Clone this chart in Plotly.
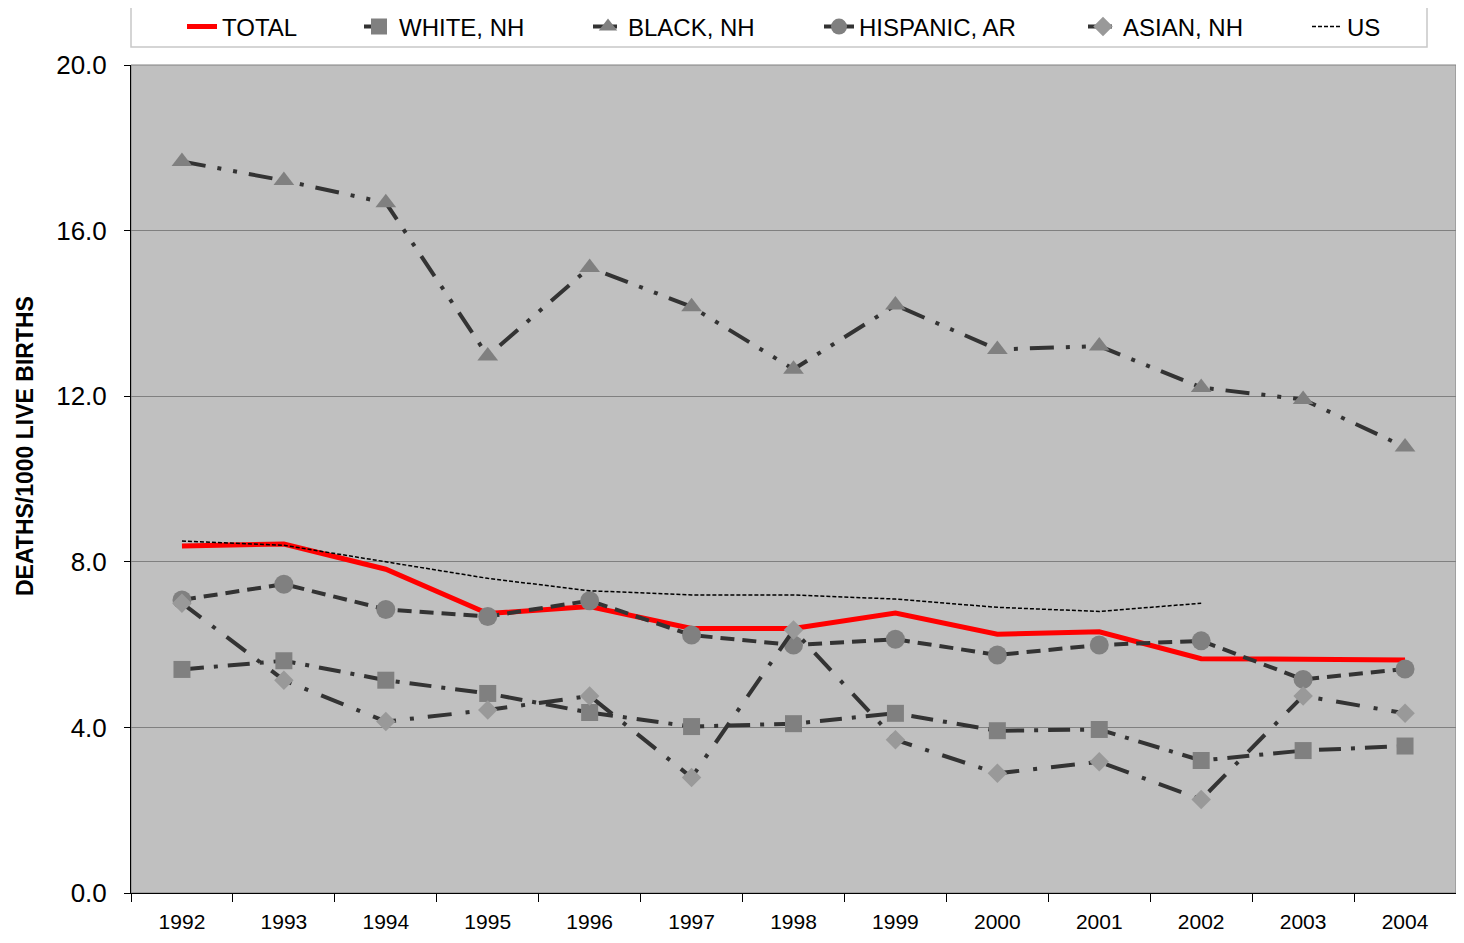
import plotly.graph_objects as go

years = ["1992", "1993", "1994", "1995", "1996", "1997", "1998",
         "1999", "2000", "2001", "2002", "2003", "2004"]
total = [8.38, 8.43, 7.82, 6.75, 6.92, 6.39, 6.39, 6.76, 6.25, 6.31, 5.66, 5.64, 5.63]
white_nh = [5.40, 5.61, 5.14, 4.82, 4.36, 4.02, 4.09, 4.34, 3.92, 3.95, 3.20, 3.44, 3.55]
black_nh = [17.67, 17.21, 16.67, 12.97, 15.11, 14.16, 12.65, 14.20, 13.13, 13.21, 12.21, 11.92, 10.77]
hispanic_ar = [7.08, 7.46, 6.85, 6.68, 7.06, 6.23, 5.99, 6.13, 5.75, 5.99, 6.09, 5.16, 5.41]
asian_nh = [7.00, 5.14, 4.14, 4.42, 4.76, 2.79, 6.35, 3.70, 2.89, 3.17, 2.26, 4.76, 4.34]
us_years = ["1992", "1993", "1994", "1995", "1996", "1997", "1998",
            "1999", "2000", "2001", "2002"]
us = [8.5, 8.4, 8.0, 7.6, 7.3, 7.2, 7.2, 7.1, 6.9, 6.8, 7.0]

y_ticks = [0, 4, 8, 12, 16, 20]

# page has an 8px body margin on every side; keep the figure inside the window
OFF = 8
W, H = 1464 - 2 * OFF, 943 - 2 * OFF
ML, MR, MT = 131 - OFF, 0, 65 - OFF
MB = H - (893 - OFF)
PW, PH = W - ML - MR, H - MT - MB

def px_x(p):
    return (p - OFF - ML) / PW

def px_y(p):
    return (H - MB - (p - OFF)) / PH

fig = go.Figure()
fig.add_trace(go.Scatter(x=years, y=total, name="TOTAL", mode="lines", legend="legend",
                         line=dict(color="#FF0000", width=5)))
fig.add_trace(go.Scatter(x=years, y=white_nh, name="WHITE, NH", mode="lines+markers", legend="legend2",
                         line=dict(color="#333333", width=4, dash="22px,10px,4px,10px"),
                         marker=dict(symbol="square", size=17, color="#808080")))
fig.add_trace(go.Scatter(x=years, y=black_nh, name="BLACK, NH", mode="lines+markers", legend="legend3",
                         line=dict(color="#333333", width=4, dash="24px,12px,4px,12px,4px,12px"),
                         marker=dict(symbol="triangle-up", size=18, color="#808080")))
fig.add_trace(go.Scatter(x=years, y=hispanic_ar, name="HISPANIC, AR", mode="lines+markers", legend="legend4",
                         line=dict(color="#333333", width=4, dash="14px,8px"),
                         marker=dict(symbol="circle", size=19, color="#808080")))
fig.add_trace(go.Scatter(x=years, y=asian_nh, name="ASIAN, NH", mode="lines+markers", legend="legend5",
                         line=dict(color="#333333", width=4, dash="24px,14px,4px,14px"),
                         marker=dict(symbol="diamond", size=15, color="#999999")))
fig.add_trace(go.Scatter(x=us_years, y=us, name="US", mode="lines", legend="legend6",
                         line=dict(color="#000000", width=1.5, dash="4px,2px")))

font_family = "Liberation Sans, Arial, sans-serif"
text_starts = [232, 409, 638, 869, 1133, 1357]
legends = {}
for i, ts in enumerate(text_starts):
    key = "legend" if i == 0 else f"legend{i + 1}"
    legends[key] = dict(x=px_x(ts - 50), xanchor="left", y=px_y(27), yanchor="middle",
                        bgcolor="rgba(0,0,0,0)", borderwidth=0,
                        font=dict(size=24, family=font_family))

fig.update_layout(
    width=W, height=H,
    margin=dict(l=ML, r=MR, t=MT, b=MB, autoexpand=False),
    paper_bgcolor="white",
    plot_bgcolor="#C0C0C0",
    font=dict(family=font_family, size=22, color="black"),
    showlegend=True,
    **legends,
)
fig.update_xaxes(type="category", range=[-0.5, len(years) - 0.5], autorange=False,
                 showline=True, linecolor="black", linewidth=1,
                 ticks="outside", tickson="boundaries", ticklen=8, tickcolor="black",
                 showgrid=False, tickfont=dict(size=21), ticklabelstandoff=10)
fig.update_yaxes(range=[0, 20], tickvals=y_ticks, tickformat=".1f",
                 showline=True, linecolor="black", linewidth=1,
                 ticks="outside", ticklen=6, tickcolor="black",
                 showgrid=True, gridcolor="#808080", gridwidth=1,
                 zeroline=False, tickfont=dict(size=26), ticklabelstandoff=12)
fig.add_annotation(text="<b>DEATHS/1000 LIVE BIRTHS</b>", textangle=-90,
                   xref="paper", yref="paper", x=px_x(25), y=px_y(446),
                   xanchor="center", yanchor="middle", showarrow=False,
                   font=dict(size=23, family=font_family, color="black"))
fig.add_shape(type="rect", xref="paper", yref="paper",
              x0=0, x1=px_x(1427), y0=px_y(47), y1=px_y(6),
              fillcolor="white", line=dict(color="#C8C8C8", width=1.5), layer="above")
fig.add_shape(type="rect", xref="paper", yref="paper", x0=0, x1=1, y0=0, y1=1,
              line=dict(color="#808080", width=1), layer="below")

fig.write_html("out.html")
